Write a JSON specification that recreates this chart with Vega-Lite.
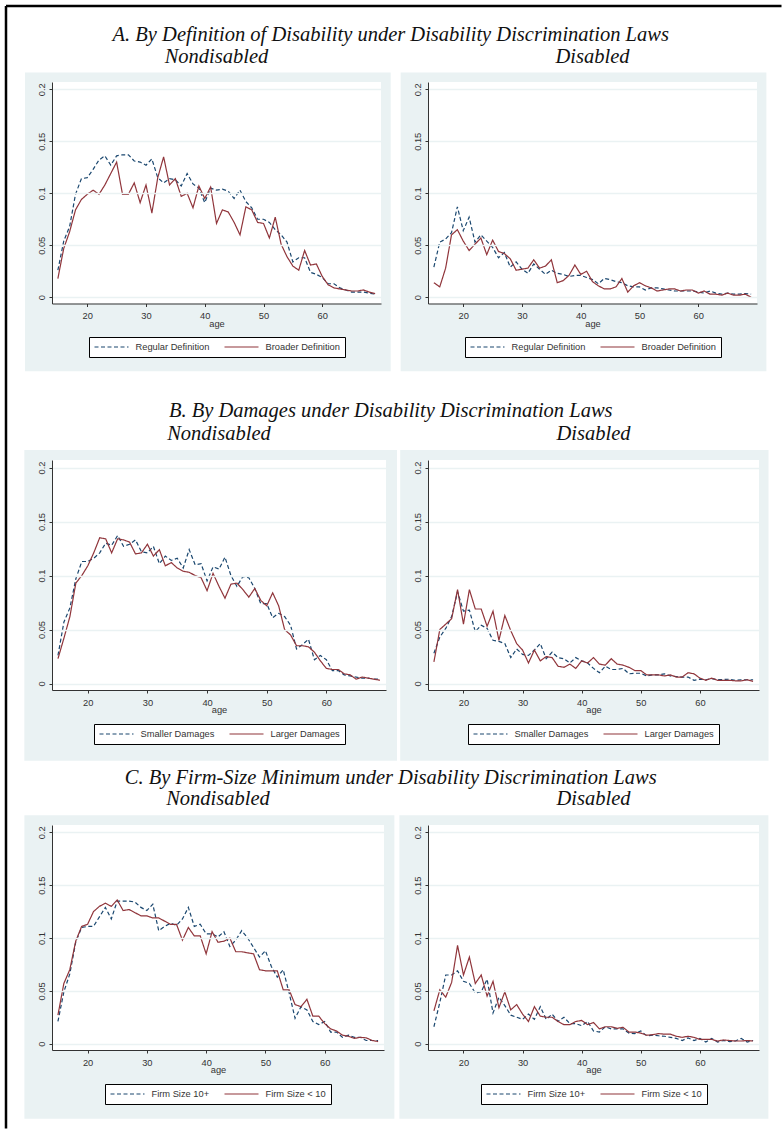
{
"$schema":"https://vega.github.io/schema/vega-lite/v6.json",
"padding":{"left":4,"top":4,"right":0,"bottom":0},
"background":"white",
"columns":2,
"bounds":"flush",
"align":"each",
"spacing":{"row":0,"column":42},
"datasets":{
"A_nd":[
{"age":15,"series":"Regular Definition","share":0.026},{"age":16,"series":"Regular Definition","share":0.054},{"age":17,"series":"Regular Definition","share":0.068},{"age":18,"series":"Regular Definition","share":0.099},{"age":19,"series":"Regular Definition","share":0.114},{"age":20,"series":"Regular Definition","share":0.115},{"age":21,"series":"Regular Definition","share":0.123},{"age":22,"series":"Regular Definition","share":0.132},{"age":23,"series":"Regular Definition","share":0.136},{"age":24,"series":"Regular Definition","share":0.127},{"age":25,"series":"Regular Definition","share":0.136},{"age":26,"series":"Regular Definition","share":0.137},{"age":27,"series":"Regular Definition","share":0.137},{"age":28,"series":"Regular Definition","share":0.131},{"age":29,"series":"Regular Definition","share":0.130},{"age":30,"series":"Regular Definition","share":0.127},{"age":31,"series":"Regular Definition","share":0.133},{"age":32,"series":"Regular Definition","share":0.115},{"age":33,"series":"Regular Definition","share":0.110},{"age":34,"series":"Regular Definition","share":0.114},{"age":35,"series":"Regular Definition","share":0.113},{"age":36,"series":"Regular Definition","share":0.107},{"age":37,"series":"Regular Definition","share":0.119},{"age":38,"series":"Regular Definition","share":0.109},{"age":39,"series":"Regular Definition","share":0.105},{"age":40,"series":"Regular Definition","share":0.091},{"age":41,"series":"Regular Definition","share":0.105},{"age":42,"series":"Regular Definition","share":0.103},{"age":43,"series":"Regular Definition","share":0.104},{"age":44,"series":"Regular Definition","share":0.102},{"age":45,"series":"Regular Definition","share":0.095},{"age":46,"series":"Regular Definition","share":0.103},{"age":47,"series":"Regular Definition","share":0.092},{"age":48,"series":"Regular Definition","share":0.086},{"age":49,"series":"Regular Definition","share":0.075},{"age":50,"series":"Regular Definition","share":0.075},{"age":51,"series":"Regular Definition","share":0.072},{"age":52,"series":"Regular Definition","share":0.065},{"age":53,"series":"Regular Definition","share":0.060},{"age":54,"series":"Regular Definition","share":0.053},{"age":55,"series":"Regular Definition","share":0.034},{"age":56,"series":"Regular Definition","share":0.038},{"age":57,"series":"Regular Definition","share":0.038},{"age":58,"series":"Regular Definition","share":0.024},{"age":59,"series":"Regular Definition","share":0.022},{"age":60,"series":"Regular Definition","share":0.019},{"age":61,"series":"Regular Definition","share":0.013},{"age":62,"series":"Regular Definition","share":0.013},{"age":63,"series":"Regular Definition","share":0.009},{"age":64,"series":"Regular Definition","share":0.007},{"age":65,"series":"Regular Definition","share":0.005},{"age":66,"series":"Regular Definition","share":0.005},{"age":67,"series":"Regular Definition","share":0.005},{"age":68,"series":"Regular Definition","share":0.004},{"age":69,"series":"Regular Definition","share":0.003},
{"age":15,"series":"Broader Definition","share":0.018},{"age":16,"series":"Broader Definition","share":0.047},{"age":17,"series":"Broader Definition","share":0.063},{"age":18,"series":"Broader Definition","share":0.084},{"age":19,"series":"Broader Definition","share":0.094},{"age":20,"series":"Broader Definition","share":0.099},{"age":21,"series":"Broader Definition","share":0.103},{"age":22,"series":"Broader Definition","share":0.099},{"age":23,"series":"Broader Definition","share":0.108},{"age":24,"series":"Broader Definition","share":0.119},{"age":25,"series":"Broader Definition","share":0.130},{"age":26,"series":"Broader Definition","share":0.099},{"age":27,"series":"Broader Definition","share":0.099},{"age":28,"series":"Broader Definition","share":0.110},{"age":29,"series":"Broader Definition","share":0.091},{"age":30,"series":"Broader Definition","share":0.108},{"age":31,"series":"Broader Definition","share":0.081},{"age":32,"series":"Broader Definition","share":0.115},{"age":33,"series":"Broader Definition","share":0.135},{"age":34,"series":"Broader Definition","share":0.108},{"age":35,"series":"Broader Definition","share":0.114},{"age":36,"series":"Broader Definition","share":0.097},{"age":37,"series":"Broader Definition","share":0.100},{"age":38,"series":"Broader Definition","share":0.086},{"age":39,"series":"Broader Definition","share":0.107},{"age":40,"series":"Broader Definition","share":0.095},{"age":41,"series":"Broader Definition","share":0.106},{"age":42,"series":"Broader Definition","share":0.071},{"age":43,"series":"Broader Definition","share":0.084},{"age":44,"series":"Broader Definition","share":0.082},{"age":45,"series":"Broader Definition","share":0.072},{"age":46,"series":"Broader Definition","share":0.060},{"age":47,"series":"Broader Definition","share":0.087},{"age":48,"series":"Broader Definition","share":0.084},{"age":49,"series":"Broader Definition","share":0.072},{"age":50,"series":"Broader Definition","share":0.071},{"age":51,"series":"Broader Definition","share":0.057},{"age":52,"series":"Broader Definition","share":0.077},{"age":53,"series":"Broader Definition","share":0.051},{"age":54,"series":"Broader Definition","share":0.039},{"age":55,"series":"Broader Definition","share":0.030},{"age":56,"series":"Broader Definition","share":0.026},{"age":57,"series":"Broader Definition","share":0.045},{"age":58,"series":"Broader Definition","share":0.031},{"age":59,"series":"Broader Definition","share":0.032},{"age":60,"series":"Broader Definition","share":0.020},{"age":61,"series":"Broader Definition","share":0.012},{"age":62,"series":"Broader Definition","share":0.009},{"age":63,"series":"Broader Definition","share":0.008},{"age":64,"series":"Broader Definition","share":0.007},{"age":65,"series":"Broader Definition","share":0.006},{"age":66,"series":"Broader Definition","share":0.006},{"age":67,"series":"Broader Definition","share":0.007},{"age":68,"series":"Broader Definition","share":0.005},{"age":69,"series":"Broader Definition","share":0.0035}],
"A_d":[
{"age":15,"series":"Regular Definition","share":0.029},{"age":16,"series":"Regular Definition","share":0.053},{"age":17,"series":"Regular Definition","share":0.056},{"age":18,"series":"Regular Definition","share":0.062},{"age":19,"series":"Regular Definition","share":0.087},{"age":20,"series":"Regular Definition","share":0.064},{"age":21,"series":"Regular Definition","share":0.077},{"age":22,"series":"Regular Definition","share":0.053},{"age":23,"series":"Regular Definition","share":0.060},{"age":24,"series":"Regular Definition","share":0.054},{"age":25,"series":"Regular Definition","share":0.048},{"age":26,"series":"Regular Definition","share":0.038},{"age":27,"series":"Regular Definition","share":0.043},{"age":28,"series":"Regular Definition","share":0.029},{"age":29,"series":"Regular Definition","share":0.034},{"age":30,"series":"Regular Definition","share":0.027},{"age":31,"series":"Regular Definition","share":0.023},{"age":32,"series":"Regular Definition","share":0.032},{"age":33,"series":"Regular Definition","share":0.027},{"age":34,"series":"Regular Definition","share":0.022},{"age":35,"series":"Regular Definition","share":0.026},{"age":36,"series":"Regular Definition","share":0.023},{"age":37,"series":"Regular Definition","share":0.022},{"age":38,"series":"Regular Definition","share":0.020},{"age":39,"series":"Regular Definition","share":0.021},{"age":40,"series":"Regular Definition","share":0.021},{"age":41,"series":"Regular Definition","share":0.019},{"age":42,"series":"Regular Definition","share":0.017},{"age":43,"series":"Regular Definition","share":0.013},{"age":44,"series":"Regular Definition","share":0.018},{"age":45,"series":"Regular Definition","share":0.017},{"age":46,"series":"Regular Definition","share":0.015},{"age":47,"series":"Regular Definition","share":0.014},{"age":48,"series":"Regular Definition","share":0.011},{"age":49,"series":"Regular Definition","share":0.010},{"age":50,"series":"Regular Definition","share":0.010},{"age":51,"series":"Regular Definition","share":0.007},{"age":52,"series":"Regular Definition","share":0.009},{"age":53,"series":"Regular Definition","share":0.009},{"age":54,"series":"Regular Definition","share":0.008},{"age":55,"series":"Regular Definition","share":0.007},{"age":56,"series":"Regular Definition","share":0.006},{"age":57,"series":"Regular Definition","share":0.006},{"age":58,"series":"Regular Definition","share":0.006},{"age":59,"series":"Regular Definition","share":0.006},{"age":60,"series":"Regular Definition","share":0.005},{"age":61,"series":"Regular Definition","share":0.004},{"age":62,"series":"Regular Definition","share":0.006},{"age":63,"series":"Regular Definition","share":0.004},{"age":64,"series":"Regular Definition","share":0.003},{"age":65,"series":"Regular Definition","share":0.004},{"age":66,"series":"Regular Definition","share":0.003},{"age":67,"series":"Regular Definition","share":0.003},{"age":68,"series":"Regular Definition","share":0.0035},{"age":69,"series":"Regular Definition","share":0.003},
{"age":15,"series":"Broader Definition","share":0.014},{"age":16,"series":"Broader Definition","share":0.010},{"age":17,"series":"Broader Definition","share":0.028},{"age":18,"series":"Broader Definition","share":0.060},{"age":19,"series":"Broader Definition","share":0.065},{"age":20,"series":"Broader Definition","share":0.054},{"age":21,"series":"Broader Definition","share":0.045},{"age":22,"series":"Broader Definition","share":0.051},{"age":23,"series":"Broader Definition","share":0.057},{"age":24,"series":"Broader Definition","share":0.041},{"age":25,"series":"Broader Definition","share":0.055},{"age":26,"series":"Broader Definition","share":0.044},{"age":27,"series":"Broader Definition","share":0.042},{"age":28,"series":"Broader Definition","share":0.037},{"age":29,"series":"Broader Definition","share":0.026},{"age":30,"series":"Broader Definition","share":0.027},{"age":31,"series":"Broader Definition","share":0.028},{"age":32,"series":"Broader Definition","share":0.036},{"age":33,"series":"Broader Definition","share":0.028},{"age":34,"series":"Broader Definition","share":0.030},{"age":35,"series":"Broader Definition","share":0.036},{"age":36,"series":"Broader Definition","share":0.014},{"age":37,"series":"Broader Definition","share":0.016},{"age":38,"series":"Broader Definition","share":0.021},{"age":39,"series":"Broader Definition","share":0.031},{"age":40,"series":"Broader Definition","share":0.022},{"age":41,"series":"Broader Definition","share":0.025},{"age":42,"series":"Broader Definition","share":0.015},{"age":43,"series":"Broader Definition","share":0.011},{"age":44,"series":"Broader Definition","share":0.008},{"age":45,"series":"Broader Definition","share":0.008},{"age":46,"series":"Broader Definition","share":0.010},{"age":47,"series":"Broader Definition","share":0.018},{"age":48,"series":"Broader Definition","share":0.005},{"age":49,"series":"Broader Definition","share":0.011},{"age":50,"series":"Broader Definition","share":0.014},{"age":51,"series":"Broader Definition","share":0.011},{"age":52,"series":"Broader Definition","share":0.009},{"age":53,"series":"Broader Definition","share":0.006},{"age":54,"series":"Broader Definition","share":0.007},{"age":55,"series":"Broader Definition","share":0.008},{"age":56,"series":"Broader Definition","share":0.008},{"age":57,"series":"Broader Definition","share":0.006},{"age":58,"series":"Broader Definition","share":0.007},{"age":59,"series":"Broader Definition","share":0.007},{"age":60,"series":"Broader Definition","share":0.004},{"age":61,"series":"Broader Definition","share":0.006},{"age":62,"series":"Broader Definition","share":0.003},{"age":63,"series":"Broader Definition","share":0.003},{"age":64,"series":"Broader Definition","share":0.002},{"age":65,"series":"Broader Definition","share":0.004},{"age":66,"series":"Broader Definition","share":0.002},{"age":67,"series":"Broader Definition","share":0.002},{"age":68,"series":"Broader Definition","share":0.003},{"age":69,"series":"Broader Definition","share":0.0}],
"B_nd":[
{"age":15,"series":"Smaller Damages","share":0.026},{"age":16,"series":"Smaller Damages","share":0.057},{"age":17,"series":"Smaller Damages","share":0.070},{"age":18,"series":"Smaller Damages","share":0.097},{"age":19,"series":"Smaller Damages","share":0.113},{"age":20,"series":"Smaller Damages","share":0.113},{"age":21,"series":"Smaller Damages","share":0.116},{"age":22,"series":"Smaller Damages","share":0.121},{"age":23,"series":"Smaller Damages","share":0.130},{"age":24,"series":"Smaller Damages","share":0.128},{"age":25,"series":"Smaller Damages","share":0.137},{"age":26,"series":"Smaller Damages","share":0.127},{"age":27,"series":"Smaller Damages","share":0.129},{"age":28,"series":"Smaller Damages","share":0.133},{"age":29,"series":"Smaller Damages","share":0.122},{"age":30,"series":"Smaller Damages","share":0.121},{"age":31,"series":"Smaller Damages","share":0.127},{"age":32,"series":"Smaller Damages","share":0.111},{"age":33,"series":"Smaller Damages","share":0.118},{"age":34,"series":"Smaller Damages","share":0.114},{"age":35,"series":"Smaller Damages","share":0.116},{"age":36,"series":"Smaller Damages","share":0.107},{"age":37,"series":"Smaller Damages","share":0.124},{"age":38,"series":"Smaller Damages","share":0.110},{"age":39,"series":"Smaller Damages","share":0.111},{"age":40,"series":"Smaller Damages","share":0.095},{"age":41,"series":"Smaller Damages","share":0.108},{"age":42,"series":"Smaller Damages","share":0.106},{"age":43,"series":"Smaller Damages","share":0.117},{"age":44,"series":"Smaller Damages","share":0.100},{"age":45,"series":"Smaller Damages","share":0.090},{"age":46,"series":"Smaller Damages","share":0.099},{"age":47,"series":"Smaller Damages","share":0.098},{"age":48,"series":"Smaller Damages","share":0.088},{"age":49,"series":"Smaller Damages","share":0.074},{"age":50,"series":"Smaller Damages","share":0.074},{"age":51,"series":"Smaller Damages","share":0.061},{"age":52,"series":"Smaller Damages","share":0.065},{"age":53,"series":"Smaller Damages","share":0.062},{"age":54,"series":"Smaller Damages","share":0.054},{"age":55,"series":"Smaller Damages","share":0.032},{"age":56,"series":"Smaller Damages","share":0.036},{"age":57,"series":"Smaller Damages","share":0.041},{"age":58,"series":"Smaller Damages","share":0.022},{"age":59,"series":"Smaller Damages","share":0.026},{"age":60,"series":"Smaller Damages","share":0.022},{"age":61,"series":"Smaller Damages","share":0.012},{"age":62,"series":"Smaller Damages","share":0.012},{"age":63,"series":"Smaller Damages","share":0.008},{"age":64,"series":"Smaller Damages","share":0.007},{"age":65,"series":"Smaller Damages","share":0.006},{"age":66,"series":"Smaller Damages","share":0.005},{"age":67,"series":"Smaller Damages","share":0.005},{"age":68,"series":"Smaller Damages","share":0.004},{"age":69,"series":"Smaller Damages","share":0.004},
{"age":15,"series":"Larger Damages","share":0.023},{"age":16,"series":"Larger Damages","share":0.042},{"age":17,"series":"Larger Damages","share":0.062},{"age":18,"series":"Larger Damages","share":0.093},{"age":19,"series":"Larger Damages","share":0.100},{"age":20,"series":"Larger Damages","share":0.109},{"age":21,"series":"Larger Damages","share":0.121},{"age":22,"series":"Larger Damages","share":0.135},{"age":23,"series":"Larger Damages","share":0.134},{"age":24,"series":"Larger Damages","share":0.121},{"age":25,"series":"Larger Damages","share":0.134},{"age":26,"series":"Larger Damages","share":0.133},{"age":27,"series":"Larger Damages","share":0.131},{"age":28,"series":"Larger Damages","share":0.120},{"age":29,"series":"Larger Damages","share":0.121},{"age":30,"series":"Larger Damages","share":0.129},{"age":31,"series":"Larger Damages","share":0.118},{"age":32,"series":"Larger Damages","share":0.124},{"age":33,"series":"Larger Damages","share":0.109},{"age":34,"series":"Larger Damages","share":0.112},{"age":35,"series":"Larger Damages","share":0.107},{"age":36,"series":"Larger Damages","share":0.104},{"age":37,"series":"Larger Damages","share":0.103},{"age":38,"series":"Larger Damages","share":0.100},{"age":39,"series":"Larger Damages","share":0.098},{"age":40,"series":"Larger Damages","share":0.086},{"age":41,"series":"Larger Damages","share":0.102},{"age":42,"series":"Larger Damages","share":0.090},{"age":43,"series":"Larger Damages","share":0.079},{"age":44,"series":"Larger Damages","share":0.092},{"age":45,"series":"Larger Damages","share":0.093},{"age":46,"series":"Larger Damages","share":0.087},{"age":47,"series":"Larger Damages","share":0.080},{"age":48,"series":"Larger Damages","share":0.088},{"age":49,"series":"Larger Damages","share":0.077},{"age":50,"series":"Larger Damages","share":0.072},{"age":51,"series":"Larger Damages","share":0.084},{"age":52,"series":"Larger Damages","share":0.072},{"age":53,"series":"Larger Damages","share":0.050},{"age":54,"series":"Larger Damages","share":0.045},{"age":55,"series":"Larger Damages","share":0.035},{"age":56,"series":"Larger Damages","share":0.035},{"age":57,"series":"Larger Damages","share":0.034},{"age":58,"series":"Larger Damages","share":0.029},{"age":59,"series":"Larger Damages","share":0.021},{"age":60,"series":"Larger Damages","share":0.014},{"age":61,"series":"Larger Damages","share":0.013},{"age":62,"series":"Larger Damages","share":0.013},{"age":63,"series":"Larger Damages","share":0.009},{"age":64,"series":"Larger Damages","share":0.008},{"age":65,"series":"Larger Damages","share":0.004},{"age":66,"series":"Larger Damages","share":0.006},{"age":67,"series":"Larger Damages","share":0.005},{"age":68,"series":"Larger Damages","share":0.004},{"age":69,"series":"Larger Damages","share":0.003}],
"B_d":[
{"age":15,"series":"Smaller Damages","share":0.028},{"age":16,"series":"Smaller Damages","share":0.043},{"age":17,"series":"Smaller Damages","share":0.051},{"age":18,"series":"Smaller Damages","share":0.062},{"age":19,"series":"Smaller Damages","share":0.085},{"age":20,"series":"Smaller Damages","share":0.067},{"age":21,"series":"Smaller Damages","share":0.068},{"age":22,"series":"Smaller Damages","share":0.048},{"age":23,"series":"Smaller Damages","share":0.054},{"age":24,"series":"Smaller Damages","share":0.051},{"age":25,"series":"Smaller Damages","share":0.040},{"age":26,"series":"Smaller Damages","share":0.039},{"age":27,"series":"Smaller Damages","share":0.037},{"age":28,"series":"Smaller Damages","share":0.024},{"age":29,"series":"Smaller Damages","share":0.032},{"age":30,"series":"Smaller Damages","share":0.027},{"age":31,"series":"Smaller Damages","share":0.026},{"age":32,"series":"Smaller Damages","share":0.031},{"age":33,"series":"Smaller Damages","share":0.037},{"age":34,"series":"Smaller Damages","share":0.023},{"age":35,"series":"Smaller Damages","share":0.029},{"age":36,"series":"Smaller Damages","share":0.024},{"age":37,"series":"Smaller Damages","share":0.023},{"age":38,"series":"Smaller Damages","share":0.019},{"age":39,"series":"Smaller Damages","share":0.024},{"age":40,"series":"Smaller Damages","share":0.021},{"age":41,"series":"Smaller Damages","share":0.019},{"age":42,"series":"Smaller Damages","share":0.014},{"age":43,"series":"Smaller Damages","share":0.010},{"age":44,"series":"Smaller Damages","share":0.016},{"age":45,"series":"Smaller Damages","share":0.013},{"age":46,"series":"Smaller Damages","share":0.013},{"age":47,"series":"Smaller Damages","share":0.014},{"age":48,"series":"Smaller Damages","share":0.009},{"age":49,"series":"Smaller Damages","share":0.0095},{"age":50,"series":"Smaller Damages","share":0.0095},{"age":51,"series":"Smaller Damages","share":0.007},{"age":52,"series":"Smaller Damages","share":0.008},{"age":53,"series":"Smaller Damages","share":0.008},{"age":54,"series":"Smaller Damages","share":0.009},{"age":55,"series":"Smaller Damages","share":0.007},{"age":56,"series":"Smaller Damages","share":0.0065},{"age":57,"series":"Smaller Damages","share":0.006},{"age":58,"series":"Smaller Damages","share":0.006},{"age":59,"series":"Smaller Damages","share":0.003},{"age":60,"series":"Smaller Damages","share":0.004},{"age":61,"series":"Smaller Damages","share":0.0035},{"age":62,"series":"Smaller Damages","share":0.0045},{"age":63,"series":"Smaller Damages","share":0.0035},{"age":64,"series":"Smaller Damages","share":0.0037},{"age":65,"series":"Smaller Damages","share":0.004},{"age":66,"series":"Smaller Damages","share":0.003},{"age":67,"series":"Smaller Damages","share":0.0035},{"age":68,"series":"Smaller Damages","share":0.0035},{"age":69,"series":"Smaller Damages","share":0.0035},
{"age":15,"series":"Larger Damages","share":0.020},{"age":16,"series":"Larger Damages","share":0.050},{"age":17,"series":"Larger Damages","share":0.055},{"age":18,"series":"Larger Damages","share":0.060},{"age":19,"series":"Larger Damages","share":0.087},{"age":20,"series":"Larger Damages","share":0.055},{"age":21,"series":"Larger Damages","share":0.087},{"age":22,"series":"Larger Damages","share":0.069},{"age":23,"series":"Larger Damages","share":0.069},{"age":24,"series":"Larger Damages","share":0.053},{"age":25,"series":"Larger Damages","share":0.067},{"age":26,"series":"Larger Damages","share":0.040},{"age":27,"series":"Larger Damages","share":0.063},{"age":28,"series":"Larger Damages","share":0.049},{"age":29,"series":"Larger Damages","share":0.037},{"age":30,"series":"Larger Damages","share":0.031},{"age":31,"series":"Larger Damages","share":0.019},{"age":32,"series":"Larger Damages","share":0.031},{"age":33,"series":"Larger Damages","share":0.021},{"age":34,"series":"Larger Damages","share":0.025},{"age":35,"series":"Larger Damages","share":0.024},{"age":36,"series":"Larger Damages","share":0.016},{"age":37,"series":"Larger Damages","share":0.015},{"age":38,"series":"Larger Damages","share":0.018},{"age":39,"series":"Larger Damages","share":0.014},{"age":40,"series":"Larger Damages","share":0.021},{"age":41,"series":"Larger Damages","share":0.019},{"age":42,"series":"Larger Damages","share":0.024},{"age":43,"series":"Larger Damages","share":0.018},{"age":44,"series":"Larger Damages","share":0.017},{"age":45,"series":"Larger Damages","share":0.023},{"age":46,"series":"Larger Damages","share":0.018},{"age":47,"series":"Larger Damages","share":0.017},{"age":48,"series":"Larger Damages","share":0.015},{"age":49,"series":"Larger Damages","share":0.012},{"age":50,"series":"Larger Damages","share":0.012},{"age":51,"series":"Larger Damages","share":0.008},{"age":52,"series":"Larger Damages","share":0.008},{"age":53,"series":"Larger Damages","share":0.008},{"age":54,"series":"Larger Damages","share":0.007},{"age":55,"series":"Larger Damages","share":0.008},{"age":56,"series":"Larger Damages","share":0.006},{"age":57,"series":"Larger Damages","share":0.006},{"age":58,"series":"Larger Damages","share":0.010},{"age":59,"series":"Larger Damages","share":0.009},{"age":60,"series":"Larger Damages","share":0.005},{"age":61,"series":"Larger Damages","share":0.003},{"age":62,"series":"Larger Damages","share":0.005},{"age":63,"series":"Larger Damages","share":0.003},{"age":64,"series":"Larger Damages","share":0.003},{"age":65,"series":"Larger Damages","share":0.003},{"age":66,"series":"Larger Damages","share":0.0025},{"age":67,"series":"Larger Damages","share":0.0025},{"age":68,"series":"Larger Damages","share":0.0035},{"age":69,"series":"Larger Damages","share":0.002}],
"C_nd":[
{"age":15,"series":"Firm Size 10+","share":0.021},{"age":16,"series":"Firm Size 10+","share":0.049},{"age":17,"series":"Firm Size 10+","share":0.066},{"age":18,"series":"Firm Size 10+","share":0.096},{"age":19,"series":"Firm Size 10+","share":0.110},{"age":20,"series":"Firm Size 10+","share":0.111},{"age":21,"series":"Firm Size 10+","share":0.111},{"age":22,"series":"Firm Size 10+","share":0.120},{"age":23,"series":"Firm Size 10+","share":0.129},{"age":24,"series":"Firm Size 10+","share":0.118},{"age":25,"series":"Firm Size 10+","share":0.135},{"age":26,"series":"Firm Size 10+","share":0.135},{"age":27,"series":"Firm Size 10+","share":0.135},{"age":28,"series":"Firm Size 10+","share":0.134},{"age":29,"series":"Firm Size 10+","share":0.129},{"age":30,"series":"Firm Size 10+","share":0.126},{"age":31,"series":"Firm Size 10+","share":0.132},{"age":32,"series":"Firm Size 10+","share":0.107},{"age":33,"series":"Firm Size 10+","share":0.111},{"age":34,"series":"Firm Size 10+","share":0.114},{"age":35,"series":"Firm Size 10+","share":0.112},{"age":36,"series":"Firm Size 10+","share":0.118},{"age":37,"series":"Firm Size 10+","share":0.129},{"age":38,"series":"Firm Size 10+","share":0.111},{"age":39,"series":"Firm Size 10+","share":0.113},{"age":40,"series":"Firm Size 10+","share":0.104},{"age":41,"series":"Firm Size 10+","share":0.104},{"age":42,"series":"Firm Size 10+","share":0.101},{"age":43,"series":"Firm Size 10+","share":0.106},{"age":44,"series":"Firm Size 10+","share":0.092},{"age":45,"series":"Firm Size 10+","share":0.098},{"age":46,"series":"Firm Size 10+","share":0.107},{"age":47,"series":"Firm Size 10+","share":0.100},{"age":48,"series":"Firm Size 10+","share":0.091},{"age":49,"series":"Firm Size 10+","share":0.082},{"age":50,"series":"Firm Size 10+","share":0.088},{"age":51,"series":"Firm Size 10+","share":0.073},{"age":52,"series":"Firm Size 10+","share":0.063},{"age":53,"series":"Firm Size 10+","share":0.070},{"age":54,"series":"Firm Size 10+","share":0.048},{"age":55,"series":"Firm Size 10+","share":0.024},{"age":56,"series":"Firm Size 10+","share":0.035},{"age":57,"series":"Firm Size 10+","share":0.032},{"age":58,"series":"Firm Size 10+","share":0.021},{"age":59,"series":"Firm Size 10+","share":0.018},{"age":60,"series":"Firm Size 10+","share":0.021},{"age":61,"series":"Firm Size 10+","share":0.011},{"age":62,"series":"Firm Size 10+","share":0.011},{"age":63,"series":"Firm Size 10+","share":0.006},{"age":64,"series":"Firm Size 10+","share":0.008},{"age":65,"series":"Firm Size 10+","share":0.006},{"age":66,"series":"Firm Size 10+","share":0.006},{"age":67,"series":"Firm Size 10+","share":0.003},{"age":68,"series":"Firm Size 10+","share":0.003},{"age":69,"series":"Firm Size 10+","share":0.003},
{"age":15,"series":"Firm Size < 10","share":0.027},{"age":16,"series":"Firm Size < 10","share":0.057},{"age":17,"series":"Firm Size < 10","share":0.070},{"age":18,"series":"Firm Size < 10","share":0.097},{"age":19,"series":"Firm Size < 10","share":0.111},{"age":20,"series":"Firm Size < 10","share":0.113},{"age":21,"series":"Firm Size < 10","share":0.125},{"age":22,"series":"Firm Size < 10","share":0.130},{"age":23,"series":"Firm Size < 10","share":0.133},{"age":24,"series":"Firm Size < 10","share":0.130},{"age":25,"series":"Firm Size < 10","share":0.136},{"age":26,"series":"Firm Size < 10","share":0.126},{"age":27,"series":"Firm Size < 10","share":0.127},{"age":28,"series":"Firm Size < 10","share":0.124},{"age":29,"series":"Firm Size < 10","share":0.121},{"age":30,"series":"Firm Size < 10","share":0.121},{"age":31,"series":"Firm Size < 10","share":0.119},{"age":32,"series":"Firm Size < 10","share":0.119},{"age":33,"series":"Firm Size < 10","share":0.116},{"age":34,"series":"Firm Size < 10","share":0.113},{"age":35,"series":"Firm Size < 10","share":0.113},{"age":36,"series":"Firm Size < 10","share":0.098},{"age":37,"series":"Firm Size < 10","share":0.110},{"age":38,"series":"Firm Size < 10","share":0.102},{"age":39,"series":"Firm Size < 10","share":0.102},{"age":40,"series":"Firm Size < 10","share":0.085},{"age":41,"series":"Firm Size < 10","share":0.106},{"age":42,"series":"Firm Size < 10","share":0.096},{"age":43,"series":"Firm Size < 10","share":0.097},{"age":44,"series":"Firm Size < 10","share":0.100},{"age":45,"series":"Firm Size < 10","share":0.087},{"age":46,"series":"Firm Size < 10","share":0.087},{"age":47,"series":"Firm Size < 10","share":0.086},{"age":48,"series":"Firm Size < 10","share":0.085},{"age":49,"series":"Firm Size < 10","share":0.070},{"age":50,"series":"Firm Size < 10","share":0.069},{"age":51,"series":"Firm Size < 10","share":0.069},{"age":52,"series":"Firm Size < 10","share":0.069},{"age":53,"series":"Firm Size < 10","share":0.051},{"age":54,"series":"Firm Size < 10","share":0.051},{"age":55,"series":"Firm Size < 10","share":0.037},{"age":56,"series":"Firm Size < 10","share":0.035},{"age":57,"series":"Firm Size < 10","share":0.042},{"age":58,"series":"Firm Size < 10","share":0.026},{"age":59,"series":"Firm Size < 10","share":0.026},{"age":60,"series":"Firm Size < 10","share":0.019},{"age":61,"series":"Firm Size < 10","share":0.014},{"age":62,"series":"Firm Size < 10","share":0.012},{"age":63,"series":"Firm Size < 10","share":0.008},{"age":64,"series":"Firm Size < 10","share":0.007},{"age":65,"series":"Firm Size < 10","share":0.005},{"age":66,"series":"Firm Size < 10","share":0.006},{"age":67,"series":"Firm Size < 10","share":0.0055},{"age":68,"series":"Firm Size < 10","share":0.003},{"age":69,"series":"Firm Size < 10","share":0.002}],
"C_d":[
{"age":15,"series":"Firm Size 10+","share":0.016},{"age":16,"series":"Firm Size 10+","share":0.039},{"age":17,"series":"Firm Size 10+","share":0.065},{"age":18,"series":"Firm Size 10+","share":0.065},{"age":19,"series":"Firm Size 10+","share":0.069},{"age":20,"series":"Firm Size 10+","share":0.059},{"age":21,"series":"Firm Size 10+","share":0.057},{"age":22,"series":"Firm Size 10+","share":0.048},{"age":23,"series":"Firm Size 10+","share":0.049},{"age":24,"series":"Firm Size 10+","share":0.061},{"age":25,"series":"Firm Size 10+","share":0.029},{"age":26,"series":"Firm Size 10+","share":0.044},{"age":27,"series":"Firm Size 10+","share":0.036},{"age":28,"series":"Firm Size 10+","share":0.027},{"age":29,"series":"Firm Size 10+","share":0.025},{"age":30,"series":"Firm Size 10+","share":0.023},{"age":31,"series":"Firm Size 10+","share":0.028},{"age":32,"series":"Firm Size 10+","share":0.023},{"age":33,"series":"Firm Size 10+","share":0.035},{"age":34,"series":"Firm Size 10+","share":0.023},{"age":35,"series":"Firm Size 10+","share":0.028},{"age":36,"series":"Firm Size 10+","share":0.021},{"age":37,"series":"Firm Size 10+","share":0.025},{"age":38,"series":"Firm Size 10+","share":0.019},{"age":39,"series":"Firm Size 10+","share":0.019},{"age":40,"series":"Firm Size 10+","share":0.017},{"age":41,"series":"Firm Size 10+","share":0.021},{"age":42,"series":"Firm Size 10+","share":0.012},{"age":43,"series":"Firm Size 10+","share":0.011},{"age":44,"series":"Firm Size 10+","share":0.016},{"age":45,"series":"Firm Size 10+","share":0.014},{"age":46,"series":"Firm Size 10+","share":0.014},{"age":47,"series":"Firm Size 10+","share":0.014},{"age":48,"series":"Firm Size 10+","share":0.010},{"age":49,"series":"Firm Size 10+","share":0.0095},{"age":50,"series":"Firm Size 10+","share":0.012},{"age":51,"series":"Firm Size 10+","share":0.0075},{"age":52,"series":"Firm Size 10+","share":0.008},{"age":53,"series":"Firm Size 10+","share":0.0075},{"age":54,"series":"Firm Size 10+","share":0.007},{"age":55,"series":"Firm Size 10+","share":0.006},{"age":56,"series":"Firm Size 10+","share":0.005},{"age":57,"series":"Firm Size 10+","share":0.003},{"age":58,"series":"Firm Size 10+","share":0.0055},{"age":59,"series":"Firm Size 10+","share":0.003},{"age":60,"series":"Firm Size 10+","share":0.005},{"age":61,"series":"Firm Size 10+","share":0.0015},{"age":62,"series":"Firm Size 10+","share":0.005},{"age":63,"series":"Firm Size 10+","share":0.0015},{"age":64,"series":"Firm Size 10+","share":0.003},{"age":65,"series":"Firm Size 10+","share":0.002},{"age":66,"series":"Firm Size 10+","share":0.0025},{"age":67,"series":"Firm Size 10+","share":0.005},{"age":68,"series":"Firm Size 10+","share":0.0015},{"age":69,"series":"Firm Size 10+","share":0.003},
{"age":15,"series":"Firm Size < 10","share":0.031},{"age":16,"series":"Firm Size < 10","share":0.051},{"age":17,"series":"Firm Size < 10","share":0.044},{"age":18,"series":"Firm Size < 10","share":0.058},{"age":19,"series":"Firm Size < 10","share":0.093},{"age":20,"series":"Firm Size < 10","share":0.065},{"age":21,"series":"Firm Size < 10","share":0.082},{"age":22,"series":"Firm Size < 10","share":0.057},{"age":23,"series":"Firm Size < 10","share":0.065},{"age":24,"series":"Firm Size < 10","share":0.045},{"age":25,"series":"Firm Size < 10","share":0.059},{"age":26,"series":"Firm Size < 10","share":0.034},{"age":27,"series":"Firm Size < 10","share":0.049},{"age":28,"series":"Firm Size < 10","share":0.032},{"age":29,"series":"Firm Size < 10","share":0.037},{"age":30,"series":"Firm Size < 10","share":0.028},{"age":31,"series":"Firm Size < 10","share":0.021},{"age":32,"series":"Firm Size < 10","share":0.035},{"age":33,"series":"Firm Size < 10","share":0.026},{"age":34,"series":"Firm Size < 10","share":0.025},{"age":35,"series":"Firm Size < 10","share":0.025},{"age":36,"series":"Firm Size < 10","share":0.021},{"age":37,"series":"Firm Size < 10","share":0.018},{"age":38,"series":"Firm Size < 10","share":0.018},{"age":39,"series":"Firm Size < 10","share":0.021},{"age":40,"series":"Firm Size < 10","share":0.022},{"age":41,"series":"Firm Size < 10","share":0.018},{"age":42,"series":"Firm Size < 10","share":0.020},{"age":43,"series":"Firm Size < 10","share":0.014},{"age":44,"series":"Firm Size < 10","share":0.016},{"age":45,"series":"Firm Size < 10","share":0.016},{"age":46,"series":"Firm Size < 10","share":0.0145},{"age":47,"series":"Firm Size < 10","share":0.0155},{"age":48,"series":"Firm Size < 10","share":0.011},{"age":49,"series":"Firm Size < 10","share":0.011},{"age":50,"series":"Firm Size < 10","share":0.010},{"age":51,"series":"Firm Size < 10","share":0.008},{"age":52,"series":"Firm Size < 10","share":0.0085},{"age":53,"series":"Firm Size < 10","share":0.0095},{"age":54,"series":"Firm Size < 10","share":0.009},{"age":55,"series":"Firm Size < 10","share":0.009},{"age":56,"series":"Firm Size < 10","share":0.007},{"age":57,"series":"Firm Size < 10","share":0.006},{"age":58,"series":"Firm Size < 10","share":0.007},{"age":59,"series":"Firm Size < 10","share":0.006},{"age":60,"series":"Firm Size < 10","share":0.004},{"age":61,"series":"Firm Size < 10","share":0.004},{"age":62,"series":"Firm Size < 10","share":0.004},{"age":63,"series":"Firm Size < 10","share":0.0025},{"age":64,"series":"Firm Size < 10","share":0.0035},{"age":65,"series":"Firm Size < 10","share":0.003},{"age":66,"series":"Firm Size < 10","share":0.0025},{"age":67,"series":"Firm Size < 10","share":0.0025},{"age":68,"series":"Firm Size < 10","share":0.003},{"age":69,"series":"Firm Size < 10","share":0.0025}]
},
"concat":[
{"width":329,"height":76,"layer":[
 {"data":{"values":[{"t":"A. By Definition of Disability under Disability Discrimination Laws"}]},"mark":{"type":"text","font":"Liberation Serif","fontStyle":"italic","fontSize":20.5,"baseline":"alphabetic","align":"center","dx":174.25,"dy":-3.25,"color":"#111111"},"encoding":{"text":{"field":"t"}}},
 {"data":{"values":[{}]},"mark":{"type":"rule","color":"#000000","strokeWidth":2.5},"encoding":{"x":{"datum":-46,"type":"quantitative","scale":{"domain":[0,329],"nice":false,"zero":false},"axis":null},"y":{"datum":0,"type":"quantitative","scale":{"domain":[0,76],"reverse":true,"nice":false,"zero":false},"axis":null},"y2":{"datum":1122.5}}},
 {"data":{"values":[{}]},"mark":{"type":"rule","color":"#000000","strokeWidth":2.5},"encoding":{"x":{"datum":-46,"type":"quantitative"},"x2":{"datum":729.5},"y":{"datum":0,"type":"quantitative"}}}
]},
{"width":1,"height":1,"data":{"values":[]},"mark":"point"},
{"width":329,"height":221.5,"title":"Nondisabled","layer":[
 {"data":{"values":[{}]},"mark":{"type":"rect","fill":"#eaf2f3"},"encoding":{"x":{"datum":9.40,"type":"quantitative"},"x2":{"datum":71.65},"y":{"datum":-0.0711,"type":"quantitative"},"y2":{"datum":0.2161}}},
 {"data":{"values":[{}]},"mark":{"type":"rect","fill":"#ffffff"},"encoding":{"x":{"datum":14,"type":"quantitative"},"x2":{"datum":70},"y":{"datum":-0.006,"type":"quantitative"},"y2":{"datum":0.207}}},
 {"data":{"name":"A_nd"},"mark":{"type":"line","strokeWidth":1.2},"encoding":{
  "x":{"field":"age","type":"quantitative","scale":{"domain":[14,70],"nice":false,"zero":false},"axis":{"title":"age","values":[20,30,40,50,60],"grid":false,"zindex":1}},
  "y":{"field":"share","type":"quantitative","scale":{"domain":[-0.006,0.207],"nice":false,"zero":false},"axis":{"title":null,"values":[0,0.05,0.1,0.15,0.2],"format":"~g","labelAngle":-90,"labelAlign":"center","labelBaseline":"alphabetic","labelPadding":4.7,"grid":true,"zindex":1}},
  "color":{"field":"series","type":"nominal","scale":{"domain":["Regular Definition","Broader Definition"],"range":["#1a476f","#90353b"]},"legend":{"title":null}},
  "strokeDash":{"field":"series","type":"nominal","scale":{"domain":["Regular Definition","Broader Definition"],"range":[[4,2.5],[1,0]]},"legend":{"title":null}}}}
]},
{"width":329,"height":221.5,"title":"Disabled","layer":[
 {"data":{"values":[{}]},"mark":{"type":"rect","fill":"#eaf2f3"},"encoding":{"x":{"datum":9.35,"type":"quantitative"},"x2":{"datum":71.6},"y":{"datum":-0.0711,"type":"quantitative"},"y2":{"datum":0.2161}}},
 {"data":{"values":[{}]},"mark":{"type":"rect","fill":"#ffffff"},"encoding":{"x":{"datum":14,"type":"quantitative"},"x2":{"datum":70},"y":{"datum":-0.006,"type":"quantitative"},"y2":{"datum":0.207}}},
 {"data":{"name":"A_d"},"mark":{"type":"line","strokeWidth":1.2},"encoding":{
  "x":{"field":"age","type":"quantitative","scale":{"domain":[14,70],"nice":false,"zero":false},"axis":{"title":"age","values":[20,30,40,50,60],"grid":false,"zindex":1}},
  "y":{"field":"share","type":"quantitative","scale":{"domain":[-0.006,0.207],"nice":false,"zero":false},"axis":{"title":null,"values":[0,0.05,0.1,0.15,0.2],"format":"~g","labelAngle":-90,"labelAlign":"center","labelBaseline":"alphabetic","labelPadding":4.7,"grid":true,"zindex":1}},
  "color":{"field":"series","type":"nominal","scale":{"domain":["Regular Definition","Broader Definition"],"range":["#1a476f","#90353b"]},"legend":{"title":null}},
  "strokeDash":{"field":"series","type":"nominal","scale":{"domain":["Regular Definition","Broader Definition"],"range":[[4,2.5],[1,0]]},"legend":{"title":null}}}}
]},
{"width":329,"height":155.2,"data":{"values":[{"t":"B. By Damages under Disability Discrimination Laws"}]},"mark":{"type":"text","font":"Liberation Serif","fontStyle":"italic","fontSize":20.5,"baseline":"alphabetic","align":"center","dx":174.25,"dy":35.4,"color":"#111111"},"encoding":{"text":{"field":"t"}}},
{"width":1,"height":1,"data":{"values":[]},"mark":"point"},
{"width":334,"height":230,"title":"Nondisabled","layer":[
 {"data":{"values":[{}]},"mark":{"type":"rect","fill":"#eaf2f3"},"encoding":{"x":{"datum":9.36,"type":"quantitative"},"x2":{"datum":71.84},"y":{"datum":-0.0716,"type":"quantitative"},"y2":{"datum":0.2162}}},
 {"data":{"values":[{}]},"mark":{"type":"rect","fill":"#ffffff"},"encoding":{"x":{"datum":14,"type":"quantitative"},"x2":{"datum":70},"y":{"datum":-0.006,"type":"quantitative"},"y2":{"datum":0.207}}},
 {"data":{"name":"B_nd"},"mark":{"type":"line","strokeWidth":1.2},"encoding":{
  "x":{"field":"age","type":"quantitative","scale":{"domain":[14,70],"nice":false,"zero":false},"axis":{"title":"age","values":[20,30,40,50,60],"grid":false,"zindex":1}},
  "y":{"field":"share","type":"quantitative","scale":{"domain":[-0.006,0.207],"nice":false,"zero":false},"axis":{"title":null,"values":[0,0.05,0.1,0.15,0.2],"format":"~g","labelAngle":-90,"labelAlign":"center","labelBaseline":"alphabetic","labelPadding":4.7,"grid":true,"zindex":1}},
  "color":{"field":"series","type":"nominal","scale":{"domain":["Smaller Damages","Larger Damages"],"range":["#1a476f","#90353b"]},"legend":{"title":null}},
  "strokeDash":{"field":"series","type":"nominal","scale":{"domain":["Smaller Damages","Larger Damages"],"range":[[4,2.5],[1,0]]},"legend":{"title":null}}}}
]},
{"width":331,"height":230,"title":"Disabled","layer":[
 {"data":{"values":[{}]},"mark":{"type":"rect","fill":"#eaf2f3"},"encoding":{"x":{"datum":9.30,"type":"quantitative"},"x2":{"datum":71.61},"y":{"datum":-0.0716,"type":"quantitative"},"y2":{"datum":0.2162}}},
 {"data":{"values":[{}]},"mark":{"type":"rect","fill":"#ffffff"},"encoding":{"x":{"datum":14,"type":"quantitative"},"x2":{"datum":70},"y":{"datum":-0.006,"type":"quantitative"},"y2":{"datum":0.207}}},
 {"data":{"name":"B_d"},"mark":{"type":"line","strokeWidth":1.2},"encoding":{
  "x":{"field":"age","type":"quantitative","scale":{"domain":[14,70],"nice":false,"zero":false},"axis":{"title":"age","values":[20,30,40,50,60],"grid":false,"zindex":1}},
  "y":{"field":"share","type":"quantitative","scale":{"domain":[-0.006,0.207],"nice":false,"zero":false},"axis":{"title":null,"values":[0,0.05,0.1,0.15,0.2],"format":"~g","labelAngle":-90,"labelAlign":"center","labelBaseline":"alphabetic","labelPadding":4.7,"grid":true,"zindex":1}},
  "color":{"field":"series","type":"nominal","scale":{"domain":["Smaller Damages","Larger Damages"],"range":["#1a476f","#90353b"]},"legend":{"title":null}},
  "strokeDash":{"field":"series","type":"nominal","scale":{"domain":["Smaller Damages","Larger Damages"],"range":[[4,2.5],[1,0]]},"legend":{"title":null}}}}
]},
{"width":329,"height":134.8,"data":{"values":[{"t":"C. By Firm-Size Minimum under Disability Discrimination Laws"}]},"mark":{"type":"text","font":"Liberation Serif","fontStyle":"italic","fontSize":20.5,"baseline":"alphabetic","align":"center","dx":174.25,"dy":26.4,"color":"#111111"},"encoding":{"text":{"field":"t"}}},
{"width":1,"height":1,"data":{"values":[]},"mark":"point"},
{"width":332,"height":225,"title":"Nondisabled","layer":[
 {"data":{"values":[{}]},"mark":{"type":"rect","fill":"#eaf2f3"},"encoding":{"x":{"datum":9.345,"type":"quantitative"},"x2":{"datum":71.75},"y":{"datum":-0.0710,"type":"quantitative"},"y2":{"datum":0.2162}}},
 {"data":{"values":[{}]},"mark":{"type":"rect","fill":"#ffffff"},"encoding":{"x":{"datum":14,"type":"quantitative"},"x2":{"datum":70},"y":{"datum":-0.006,"type":"quantitative"},"y2":{"datum":0.207}}},
 {"data":{"name":"C_nd"},"mark":{"type":"line","strokeWidth":1.2},"encoding":{
  "x":{"field":"age","type":"quantitative","scale":{"domain":[14,70],"nice":false,"zero":false},"axis":{"title":"age","values":[20,30,40,50,60],"grid":false,"zindex":1}},
  "y":{"field":"share","type":"quantitative","scale":{"domain":[-0.006,0.207],"nice":false,"zero":false},"axis":{"title":null,"values":[0,0.05,0.1,0.15,0.2],"format":"~g","labelAngle":-90,"labelAlign":"center","labelBaseline":"alphabetic","labelPadding":4.7,"grid":true,"zindex":1}},
  "color":{"field":"series","type":"nominal","scale":{"domain":["Firm Size 10+","Firm Size < 10"],"range":["#1a476f","#90353b"]},"legend":{"title":null}},
  "strokeDash":{"field":"series","type":"nominal","scale":{"domain":["Firm Size 10+","Firm Size < 10"],"range":[[4,2.5],[1,0]]},"legend":{"title":null}}}}
]},
{"width":331,"height":225,"title":"Disabled","layer":[
 {"data":{"values":[{}]},"mark":{"type":"rect","fill":"#eaf2f3"},"encoding":{"x":{"datum":9.16,"type":"quantitative"},"x2":{"datum":71.59},"y":{"datum":-0.0710,"type":"quantitative"},"y2":{"datum":0.2162}}},
 {"data":{"values":[{}]},"mark":{"type":"rect","fill":"#ffffff"},"encoding":{"x":{"datum":14,"type":"quantitative"},"x2":{"datum":70},"y":{"datum":-0.006,"type":"quantitative"},"y2":{"datum":0.207}}},
 {"data":{"name":"C_d"},"mark":{"type":"line","strokeWidth":1.2},"encoding":{
  "x":{"field":"age","type":"quantitative","scale":{"domain":[14,70],"nice":false,"zero":false},"axis":{"title":"age","values":[20,30,40,50,60],"grid":false,"zindex":1}},
  "y":{"field":"share","type":"quantitative","scale":{"domain":[-0.006,0.207],"nice":false,"zero":false},"axis":{"title":null,"values":[0,0.05,0.1,0.15,0.2],"format":"~g","labelAngle":-90,"labelAlign":"center","labelBaseline":"alphabetic","labelPadding":4.7,"grid":true,"zindex":1}},
  "color":{"field":"series","type":"nominal","scale":{"domain":["Firm Size 10+","Firm Size < 10"],"range":["#1a476f","#90353b"]},"legend":{"title":null}},
  "strokeDash":{"field":"series","type":"nominal","scale":{"domain":["Firm Size 10+","Firm Size < 10"],"range":[[4,2.5],[1,0]]},"legend":{"title":null}}}}
]}
],
"resolve":{"scale":{"color":"independent","strokeDash":"independent"}},
"config":{
 "view":{"stroke":null},
 "font":"Liberation Sans",
 "axis":{"labelFont":"Liberation Sans","labelFontSize":9.3,"labelColor":"#333333","titleFont":"Liberation Sans","titleFontSize":9.3,"titleFontWeight":"normal","titleColor":"#333333","titlePadding":0,"domainColor":"#333333","tickColor":"#333333","tickSize":3,"domainWidth":1,"tickWidth":1,"labelPadding":4.5,"labelFlush":false,"labelOverlap":false,"gridColor":"#eaf2f3","gridWidth":1.5},
 "axisX":{"labelPadding":5,"titlePadding":-1.5},
 "title":{"font":"Liberation Serif","fontStyle":"italic","fontSize":20.5,"fontWeight":"normal","color":"#111111","anchor":"middle","frame":"group","baseline":"alphabetic","offset":5.5},
 "legend":{"orient":"bottom","direction":"horizontal","offset":8,"padding":4.5,"fillColor":"#ffffff","strokeColor":"#000000","symbolType":"stroke","symbolSize":1156,"symbolStrokeWidth":1.2,"clipHeight":11,"labelFont":"Liberation Sans","labelFontSize":9.3,"labelColor":"#333333","labelOffset":6,"columnPadding":14,"layout":{"bottom":{"anchor":"middle"}}}
}
}
